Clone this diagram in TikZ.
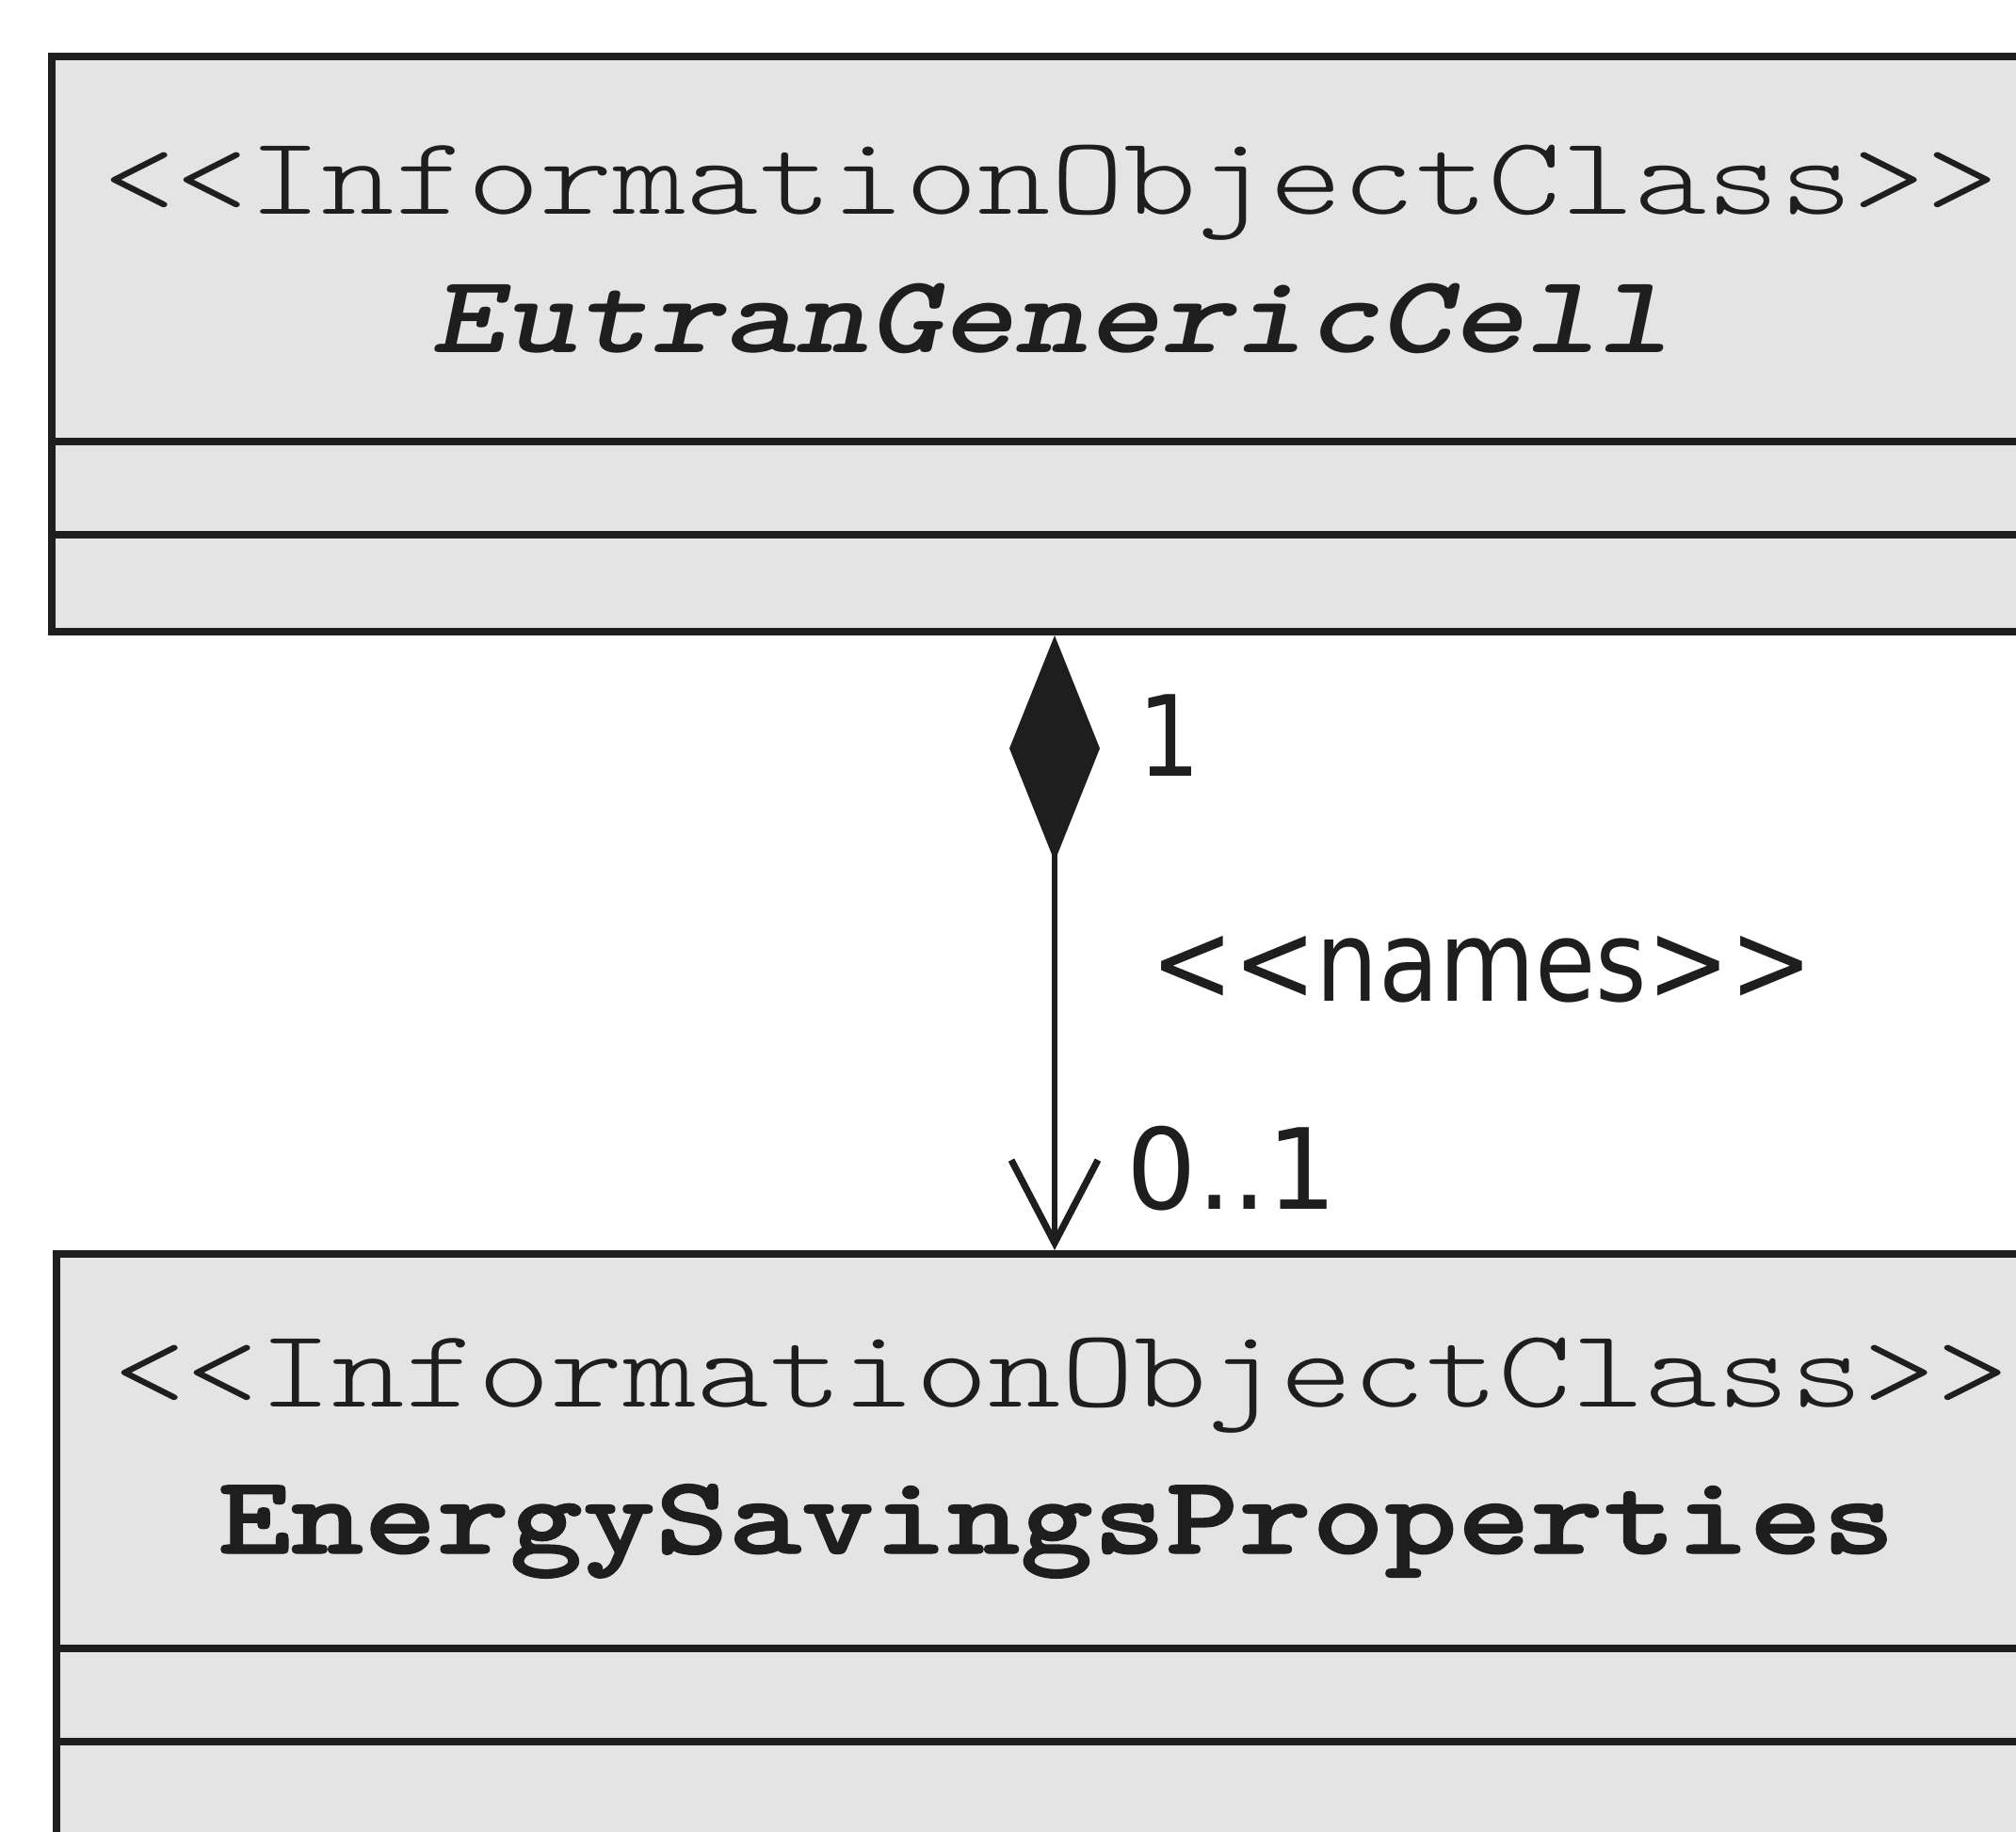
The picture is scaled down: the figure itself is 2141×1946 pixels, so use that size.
\documentclass[tikz,border=0pt]{standalone}
\usepackage{fontspec}
\usepackage{graphicx}
\usetikzlibrary{arrows.meta}
\newfontfamily\monolight[FakeStretch=1.25,
  BoldFeatures={FakeBold=1.2}, BoldSlantedFeatures={FakeBold=1.2}]{Latin Modern Mono Light}
\newfontfamily\labelfont[FakeStretch=0.88]{DejaVu Sans}
\definecolor{boxfill}{HTML}{E4E4E4}
\definecolor{ink}{HTML}{1E1E1E}

\begin{document}
\begin{tikzpicture}[x=0.5pt,y=-0.5pt,
  classbox/.style={draw=ink, line width=4pt, fill=boxfill, rectangle, inner sep=0pt},
  sepline/.style={draw=ink, line width=4pt},
  stereo/.style={font=\fontsize{59pt}{64pt}\monolight, text=ink, anchor=base, inner sep=0pt},
  clsname/.style={font=\fontsize{59pt}{64pt}\monolight\bfseries, text=ink, anchor=base, inner sep=0pt},
  assoclabel/.style={font=\fontsize{59.5pt}{64pt}\labelfont, text=ink, anchor=base west, inner sep=0pt},
  assoc/.style={draw=ink, line width=3pt,
    {Diamond[length=120pt,width=48pt,fill=ink]}-{Straight Barb[length=44pt,width=46pt,line width=3.6pt]}}
]
\useasboundingbox (0,0) rectangle (2141,1946);
\clip (0,0) rectangle (2141,1946);
\fill[white] (0,0) rectangle (2141,1946);

% class boxes (both run past the right edge; the lower one past the bottom)
\node[classbox, minimum width=1065pt, minimum height=305.5pt] (cell) at (1120,365.5) {};
\node[classbox, minimum width=1060pt, minimum height=384pt] (esp) at (1120,1716) {};

% compartment separators
\path (0,469) coordinate (cellsepA) (0,568) coordinate (cellsepB)
      (0,1751) coordinate (espsepA) (0,1850) coordinate (espsepB);
\draw[sepline] (cell.west |- cellsepA) -- (cell.east |- cellsepA);
\draw[sepline] (cell.west |- cellsepB) -- (cell.east |- cellsepB);
\draw[sepline] (esp.west |- espsepA) -- (esp.east |- espsepA);
\draw[sepline] (esp.west |- espsepB) -- (esp.east |- espsepB);

% class headers
\node[stereo] (cellstereo) at (1116,228) {<{}<InformationObjectClass>{}>};
\node[clsname] (cellname) at (1116,375) {\slshape EutranGenericCell};
\node[stereo] (espstereo) at (1127,1494) {<{}<InformationObjectClass>{}>};
\node[clsname] (espname) at (1122,1650) {EnergySavingsProperties};

% composition association
\draw[assoc] (cell.south) -- (esp.north);
\node[assoclabel] (multcell) at (1208,824) {1};
\node[assoclabel] (stereonames) at (1222,1063) {<{}<names>{}>};
\node[assoclabel] (multesp) at (1196,1284) {\scalebox{1.12}[1]{0..1}};
\end{tikzpicture}
\end{document}
